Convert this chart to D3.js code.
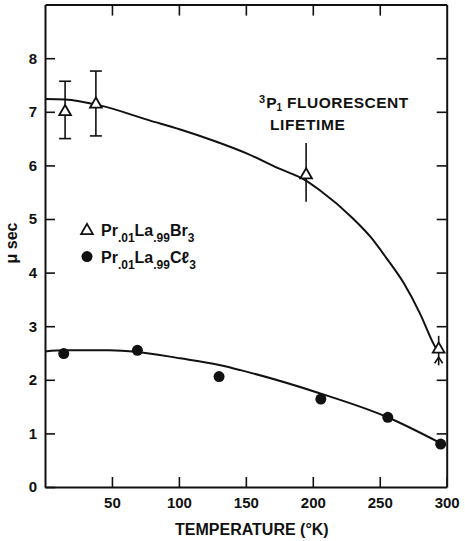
<!DOCTYPE html>
<html>
<head>
  <meta charset="UTF-8" />
  <script src="https://d3js.org/d3.v7.min.js"></script>
  <style>
    body { margin: 0; background: #fff; }
    text { font-family: "Liberation Sans", Arial, sans-serif; fill: #111; }
  </style>
</head>
<body>
  <script>
    // Pr.01La.99Br3 (triangles, with error bars)
    var tempBr = [15, 38, 195, 294];
    var lifeBr = [7.0, 7.14, 5.82, 2.57];
    var errLoBr = [6.5, 6.55, 5.32, 2.27];
    var errHiBr = [7.57, 7.76, 6.42, 2.82];
    var capBr = [true, true, false, false];

    // Pr.01La.99Cl3 (filled circles)
    var tempCl = [14, 69, 130, 206, 256, 295.5];
    var lifeCl = [2.49, 2.55, 2.06, 1.64, 1.30, 0.80];

    // hand drawn fit curves
    var fitBrT = [0, 15, 41, 78, 101, 126, 151, 175, 194, 205, 230, 243, 255, 268, 280, 290, 293.5];
    var fitBrV = [7.24, 7.23, 7.12, 6.84, 6.67, 6.46, 6.22, 5.94, 5.73, 5.54, 5.01, 4.67, 4.27, 3.80, 3.24, 2.68, 2.52];
    var fitClT = [0, 15, 48, 69, 101, 131, 146, 205, 255, 296];
    var fitClV = [2.53, 2.55, 2.55, 2.52, 2.40, 2.27, 2.18, 1.75, 1.31, 0.81];

    var xTicks = [50, 100, 150, 200, 250, 300];
    var yTicks = [0, 1, 2, 3, 4, 5, 6, 7, 8];

    var width = 465, height = 541;

    var x = d3.scaleLinear().domain([0, 300]).range([45, 446.7]);
    var y = d3.scaleLinear().domain([0, 9]).range([487, 4.6]);

    var svg = d3.select("body").append("svg")
      .attr("width", width)
      .attr("height", height);

    // axes, ticks pointing inward
    var gx = svg.append("g")
      .attr("transform", "translate(0," + y(0) + ")")
      .call(d3.axisBottom(x).tickValues(xTicks).tickSizeInner(-10).tickSizeOuter(0).tickPadding(10));
    var gy = svg.append("g")
      .attr("transform", "translate(" + x(0) + ",0)")
      .call(d3.axisLeft(y).tickValues(yTicks).tickSizeInner(-10).tickSizeOuter(0).tickPadding(8));
    var gt = svg.append("g")
      .attr("transform", "translate(0," + y(9) + ")")
      .call(d3.axisTop(x).tickValues(xTicks.slice(0, 5)).tickSizeInner(-11).tickSizeOuter(0).tickFormat(""));
    var gr = svg.append("g")
      .attr("transform", "translate(" + x(300) + ",0)")
      .call(d3.axisRight(y).tickValues(yTicks.slice(1)).tickSizeInner(-10).tickSizeOuter(0).tickFormat(""));

    [gx, gy, gt, gr].forEach(function (g) {
      g.select(".domain").attr("stroke", "#111").attr("stroke-width", 2);
      g.selectAll(".tick line").attr("stroke", "#111").attr("stroke-width", 1.6);
      g.selectAll(".tick text")
        .style("font-family", "'Liberation Sans', Arial, sans-serif")
        .style("font-size", "15px")
        .style("font-weight", "bold")
        .attr("fill", "#111");
    });

    // axis titles
    svg.append("text")
      .attr("x", (x(0) + x(300)) / 2 + 6)
      .attr("y", 535)
      .attr("text-anchor", "middle")
      .style("font-size", "16px")
      .style("font-weight", "bold")
      .text("TEMPERATURE (°K)");

    svg.append("text")
      .attr("transform", "translate(17,243) rotate(-90)")
      .attr("text-anchor", "middle")
      .style("font-size", "16px")
      .style("font-weight", "bold")
      .text("μ sec");

    // fit curves
    var line = d3.line()
      .x(function (d) { return x(d[0]); })
      .y(function (d) { return y(d[1]); })
      .curve(d3.curveMonotoneX);

    svg.append("path")
      .datum(d3.zip(fitBrT, fitBrV))
      .attr("d", line)
      .attr("fill", "none")
      .attr("stroke", "#111")
      .attr("stroke-width", 2);

    svg.append("path")
      .datum(d3.zip(fitClT, fitClV))
      .attr("d", line)
      .attr("fill", "none")
      .attr("stroke", "#111")
      .attr("stroke-width", 2);

    // error bars
    tempBr.forEach(function (t, i) {
      svg.append("line")
        .attr("x1", x(t)).attr("x2", x(t))
        .attr("y1", y(errLoBr[i])).attr("y2", y(errHiBr[i]))
        .attr("stroke", "#111").attr("stroke-width", 1.6);
      if (capBr[i]) {
        [errLoBr[i], errHiBr[i]].forEach(function (v) {
          svg.append("line")
            .attr("x1", x(t) - 6).attr("x2", x(t) + 6)
            .attr("y1", y(v)).attr("y2", y(v))
            .attr("stroke", "#111").attr("stroke-width", 1.6);
        });
      }
    });

    // small arrow under the last triangle
    var la = tempBr.length - 1;
    svg.append("path")
      .attr("d", "M" + (x(tempBr[la]) - 4) + "," + (y(lifeBr[la]) + 14) +
        "L" + x(tempBr[la]) + "," + (y(lifeBr[la]) + 8) +
        "L" + (x(tempBr[la]) + 4) + "," + (y(lifeBr[la]) + 14))
      .attr("fill", "none").attr("stroke", "#111").attr("stroke-width", 1.6);

    // triangles
    var tri = d3.symbol().type(d3.symbolTriangle).size(60);
    svg.selectAll("path.br")
      .data(d3.zip(tempBr, lifeBr))
      .enter().append("path")
      .attr("class", "br")
      .attr("d", tri)
      .attr("transform", function (d) { return "translate(" + x(d[0]) + "," + y(d[1]) + ")"; })
      .attr("fill", "#fff")
      .attr("stroke", "#111")
      .attr("stroke-width", 1.8);

    // circles
    svg.selectAll("circle.cl")
      .data(d3.zip(tempCl, lifeCl))
      .enter().append("circle")
      .attr("class", "cl")
      .attr("cx", function (d) { return x(d[0]); })
      .attr("cy", function (d) { return y(d[1]); })
      .attr("r", 5.5)
      .attr("fill", "#111");

    // legend
    var lg = svg.append("g").attr("transform", "translate(87,0)");
    lg.append("path")
      .attr("d", tri)
      .attr("transform", "translate(0," + (y(4.8) + 1) + ")")
      .attr("fill", "#fff").attr("stroke", "#111").attr("stroke-width", 1.8);
    lg.append("circle")
      .attr("cx", 0).attr("cy", y(4.3))
      .attr("r", 5.5).attr("fill", "#111");

    function formula(ty, parts) {
      var t = lg.append("text")
        .attr("x", 14).attr("y", ty)
        .style("font-size", "16px")
        .style("font-weight", "bold");
      var shift = 0;
      parts.forEach(function (p) {
        var s = p[1] ? 6 : 0;
        t.append("tspan")
          .attr("dy", s - shift)
          .style("font-size", p[1] ? "12px" : "16px")
          .text(p[0]);
        shift = s;
      });
    }
    formula(y(4.8) + 6, [["Pr", 0], [".01", 1], ["La", 0], [".99", 1], ["Br", 0], ["3", 1]]);
    formula(y(4.3) + 6, [["Pr", 0], [".01", 1], ["La", 0], [".99", 1], ["Cℓ", 0], ["3", 1]]);

    // annotation
    var an = svg.append("text")
      .attr("x", 259).attr("y", 107.5)
      .style("font-size", "15.5px")
      .style("font-weight", "bold");
    an.append("tspan").attr("dy", -5).style("font-size", "11px").text("3");
    an.append("tspan").attr("dy", 5).attr("dx", 1).text("P");
    an.append("tspan").attr("dy", 3).style("font-size", "10px").text("1");
    an.append("tspan").attr("dy", -3).attr("dx", 5).style("letter-spacing", "0.5px").text("FLUORESCENT");
    svg.append("text")
      .attr("x", 270).attr("y", 129.5)
      .style("font-size", "15.5px")
      .style("font-weight", "bold")
      .style("letter-spacing", "0.6px")
      .text("LIFETIME");
  </script>
</body>
</html>
